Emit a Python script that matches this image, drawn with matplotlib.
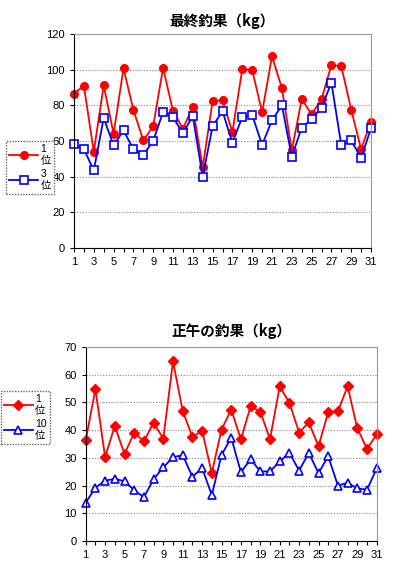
import matplotlib
matplotlib.use("Agg")
import matplotlib.pyplot as plt

plt.rcParams['font.family'] = ['Liberation Sans', 'Noto Sans CJK JP', 'DejaVu Sans']

days = list(range(1, 32))

# 最終釣果 (kg)
final_1st = [86.6, 90.9, 53.9, 91.2, 64.0, 100.7, 77.4, 60.3, 68.3, 101.1,
             76.7, 67.0, 78.9, 45.3, 82.3, 82.8, 65.1, 100.4, 99.8, 76.1,
             107.5, 89.7, 54.7, 83.4, 75.0, 83.4, 102.6, 101.9, 77.6, 55.4, 70.9]
final_3rd = [58.2, 55.4, 43.5, 72.9, 57.5, 65.9, 55.4, 52.2, 60.0, 76.3,
             73.3, 64.4, 73.9, 39.9, 68.3, 76.7, 59.0, 73.5, 74.6, 57.8,
             71.6, 80.0, 51.1, 67.5, 72.2, 78.7, 92.7, 57.6, 60.4, 50.4, 67.2]

# 正午の釣果 (kg)
noon_1st = [36.3, 54.8, 30.3, 41.5, 31.4, 39.0, 36.0, 42.7, 36.9, 64.8,
            47.0, 37.5, 39.8, 24.5, 40.2, 47.4, 36.7, 48.6, 46.7, 36.7,
            55.8, 49.9, 39.1, 42.8, 34.2, 46.4, 46.8, 55.8, 40.7, 33.2, 38.5]
noon_10th = [13.8, 19.2, 21.8, 22.4, 21.6, 18.3, 15.8, 22.3, 26.6, 30.2,
             31.0, 23.2, 26.3, 16.6, 31.0, 37.3, 24.8, 29.5, 25.1, 25.1,
             28.7, 31.8, 25.4, 31.8, 24.5, 30.6, 20.0, 21.0, 19.0, 18.5, 26.2]

W, H = 394, 581
fig = plt.figure(figsize=(W / 100, H / 100), dpi=100)


def style_axes(ax, ymax, ystep):
    ax.set_xlim(1, 31)
    ax.set_ylim(0, ymax)
    ax.set_xticks(range(1, 32, 2))
    ax.set_xticks(range(1, 32), minor=True)
    ax.set_yticks(range(0, ymax + 1, ystep))
    ax.tick_params(axis='both', labelsize=8, direction='out', length=3, width=0.8)
    ax.tick_params(axis='x', which='minor', direction='out', length=3, width=0.8)
    ax.grid(axis='y', linestyle=(0, (1, 1.5)), color='#888888', linewidth=0.8)
    for side in ['top', 'right']:
        ax.spines[side].set_color('#999999')
        ax.spines[side].set_linestyle((0, (1, 1)))
    for side in ['left', 'bottom']:
        ax.spines[side].set_color('black')
    ax.set_axisbelow(True)


def add_legend(ax, x, y):
    leg = ax.legend(loc='upper left', bbox_to_anchor=(x / W, 1 - y / H),
                    bbox_transform=fig.transFigure, handlelength=2.8,
                    borderpad=0.3, labelspacing=0.3, handletextpad=0.2,
                    fancybox=False, edgecolor='#666666', framealpha=1,
                    borderaxespad=0,
                    prop={'family': ['Liberation Sans', 'Noto Sans CJK JP'], 'size': 7.5})
    leg.get_frame().set_linestyle((0, (1, 1)))
    return leg


# top chart
ax1 = fig.add_axes([74 / W, 1 - 248 / H, (371 - 74) / W, (248 - 34) / H])
ax1.plot(days, final_1st, color='red', marker='o', markersize=5.5, linewidth=1.3,
         label='1\n位', clip_on=False)
ax1.plot(days, final_3rd, color='blue', marker='s', markersize=6, linewidth=1.3,
         markerfacecolor='white', markeredgewidth=1.2, label='3\n位', clip_on=False)
style_axes(ax1, 120, 20)
ax1.set_title('最終釣果（kg）', fontsize=10.5, fontweight='bold',
              family=['Noto Sans CJK JP', 'DejaVu Sans'], pad=6)
add_legend(ax1, 6, 141)

# bottom chart
ax2 = fig.add_axes([85.7 / W, 1 - 541 / H, (376.7 - 85.7) / W, (541 - 347) / H])
ax2.plot(days, noon_1st, color='red', marker='D', markersize=4.8, linewidth=1.3,
         label='1\n位', clip_on=False)
ax2.plot(days, noon_10th, color='blue', marker='^', markersize=6, linewidth=1.3,
         markerfacecolor='white', markeredgewidth=1.2, label='10\n位', clip_on=False)
style_axes(ax2, 70, 10)
ax2.set_title('正午の釣果（kg）', fontsize=10.5, fontweight='bold',
              family=['Noto Sans CJK JP', 'DejaVu Sans'], pad=8)
add_legend(ax2, 0.5, 391)

fig.savefig('out.png', dpi=100)
